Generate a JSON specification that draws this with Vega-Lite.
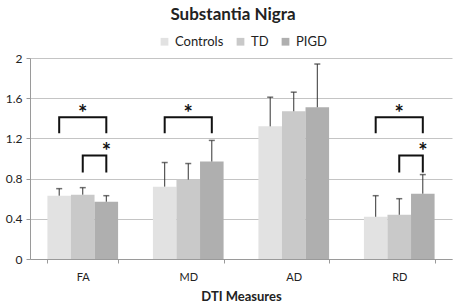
{
  "$schema": "https://vega.github.io/schema/vega-lite/v6.json",
  "width": 422,
  "height": 201,
  "autosize": {"type": "none"},
  "padding": {"left": 30, "top": 58, "right": 2, "bottom": 45},
  "background": "white",
  "config": {
    "font": "Lato",
    "view": {"stroke": null},
    "axis": {"labelFont": "Lato", "titleFont": "Lato", "labelColor": "#222", "titleColor": "#222"}
  },
  "title": {"text": "Substantia Nigra", "fontSize": 17, "fontWeight": "bold", "font": "Lato", "color": "#222", "anchor": "middle", "dx": -8, "offset": 11},
  "datasets": {
    "bars": [
      {"measure": "FA", "group": "Controls", "value": 0.63, "upper": 0.70},
      {"measure": "FA", "group": "TD", "value": 0.64, "upper": 0.71},
      {"measure": "FA", "group": "PIGD", "value": 0.57, "upper": 0.63},
      {"measure": "MD", "group": "Controls", "value": 0.72, "upper": 0.96},
      {"measure": "MD", "group": "TD", "value": 0.79, "upper": 0.95},
      {"measure": "MD", "group": "PIGD", "value": 0.97, "upper": 1.18},
      {"measure": "AD", "group": "Controls", "value": 1.32, "upper": 1.61},
      {"measure": "AD", "group": "TD", "value": 1.47, "upper": 1.66},
      {"measure": "AD", "group": "PIGD", "value": 1.51, "upper": 1.94},
      {"measure": "RD", "group": "Controls", "value": 0.42, "upper": 0.63},
      {"measure": "RD", "group": "TD", "value": 0.44, "upper": 0.60},
      {"measure": "RD", "group": "PIGD", "value": 0.65, "upper": 0.84}
    ],
    "brackets": [
      {"id": "FA1", "measure": "FA", "group": "Controls", "y": 1.26, "ord": 1},
      {"id": "FA1", "measure": "FA", "group": "Controls", "y": 1.41, "ord": 2},
      {"id": "FA1", "measure": "FA", "group": "PIGD", "y": 1.41, "ord": 3},
      {"id": "FA1", "measure": "FA", "group": "PIGD", "y": 1.26, "ord": 4},
      {"id": "FA2", "measure": "FA", "group": "TD", "y": 0.87, "ord": 1},
      {"id": "FA2", "measure": "FA", "group": "TD", "y": 1.03, "ord": 2},
      {"id": "FA2", "measure": "FA", "group": "PIGD", "y": 1.03, "ord": 3},
      {"id": "FA2", "measure": "FA", "group": "PIGD", "y": 0.87, "ord": 4},
      {"id": "MD1", "measure": "MD", "group": "Controls", "y": 1.26, "ord": 1},
      {"id": "MD1", "measure": "MD", "group": "Controls", "y": 1.41, "ord": 2},
      {"id": "MD1", "measure": "MD", "group": "PIGD", "y": 1.41, "ord": 3},
      {"id": "MD1", "measure": "MD", "group": "PIGD", "y": 1.26, "ord": 4},
      {"id": "RD1", "measure": "RD", "group": "Controls", "y": 1.26, "ord": 1},
      {"id": "RD1", "measure": "RD", "group": "Controls", "y": 1.41, "ord": 2},
      {"id": "RD1", "measure": "RD", "group": "PIGD", "y": 1.41, "ord": 3},
      {"id": "RD1", "measure": "RD", "group": "PIGD", "y": 1.26, "ord": 4},
      {"id": "RD2", "measure": "RD", "group": "TD", "y": 0.87, "ord": 1},
      {"id": "RD2", "measure": "RD", "group": "TD", "y": 1.03, "ord": 2},
      {"id": "RD2", "measure": "RD", "group": "PIGD", "y": 1.03, "ord": 3},
      {"id": "RD2", "measure": "RD", "group": "PIGD", "y": 0.87, "ord": 4}
    ],
    "starsMid": [
      {"measure": "FA", "group": "TD", "y": 1.44},
      {"measure": "MD", "group": "TD", "y": 1.44},
      {"measure": "RD", "group": "TD", "y": 1.44}
    ],
    "starsEdge": [
      {"measure": "FA", "group": "PIGD", "y": 1.06},
      {"measure": "RD", "group": "PIGD", "y": 1.06}
    ]
  },
  "encoding": {
    "x": {
      "field": "measure", "type": "nominal", "sort": ["FA", "MD", "AD", "RD"],
      "scale": {"paddingInner": 0.33, "paddingOuter": 0.165},
      "axis": {"title": "DTI Measures", "titleFontSize": 13, "titleFontWeight": "bold", "titlePadding": 8, "labelAngle": 0, "labelFontSize": 11, "labelPadding": 8, "domainColor": "#9a9a9a", "tickColor": "#9a9a9a", "tickBand": "extent", "tickSize": 4, "grid": false}
    },
    "xOffset": {"field": "group", "type": "nominal", "scale": {"domain": ["Controls", "TD", "PIGD"], "paddingInner": 0, "paddingOuter": 0}}
  },
  "layer": [
    {
      "data": {"name": "bars"},
      "mark": {"type": "bar"},
      "encoding": {
        "y": {"field": "value", "type": "quantitative", "scale": {"domain": [0, 2]},
          "axis": {"title": null, "values": [0, 0.4, 0.8, 1.2, 1.6, 2], "format": "~g", "labelFontSize": 12, "labelPadding": 4, "tickSize": 4, "gridColor": "#c4c4c4", "domainColor": "#9a9a9a", "tickColor": "#9a9a9a"}},
        "color": {"field": "group", "type": "nominal",
          "scale": {"domain": ["Controls", "TD", "PIGD"], "range": ["#e2e2e2", "#c9c9c9", "#afafaf"]},
          "legend": {"title": null, "orient": "none", "direction": "horizontal", "legendX": 128, "legendY": -23, "symbolType": "square", "symbolSize": 60, "symbolStrokeWidth": 0, "labelFontSize": 13, "labelColor": "#222", "columnPadding": 10, "labelOffset": 4}}
      }
    },
    {
      "data": {"name": "bars"},
      "mark": {"type": "rule", "color": "#333", "strokeWidth": 1},
      "encoding": {
        "y": {"field": "value", "type": "quantitative"},
        "y2": {"field": "upper"}
      }
    },
    {
      "data": {"name": "bars"},
      "mark": {"type": "tick", "color": "#333", "thickness": 1.5, "size": 6, "orient": "horizontal"},
      "encoding": {
        "y": {"field": "upper", "type": "quantitative"}
      }
    },
    {
      "data": {"name": "brackets"},
      "mark": {"type": "line", "color": "#111", "strokeWidth": 2, "strokeCap": "square"},
      "encoding": {
        "y": {"field": "y", "type": "quantitative"},
        "detail": {"field": "id"},
        "order": {"field": "ord"}
      }
    },
    {
      "data": {"name": "starsMid"},
      "mark": {"type": "text", "text": "*", "fontSize": 22, "fontWeight": "bold", "color": "#111", "baseline": "middle"},
      "encoding": {
        "y": {"field": "y", "type": "quantitative"}
      }
    },
    {
      "data": {"name": "starsEdge"},
      "mark": {"type": "text", "text": "*", "fontSize": 22, "fontWeight": "bold", "color": "#111", "baseline": "middle"},
      "encoding": {
        "xOffset": {"field": "group", "type": "nominal", "bandPosition": 0},
        "y": {"field": "y", "type": "quantitative"}
      }
    }
  ]
}
